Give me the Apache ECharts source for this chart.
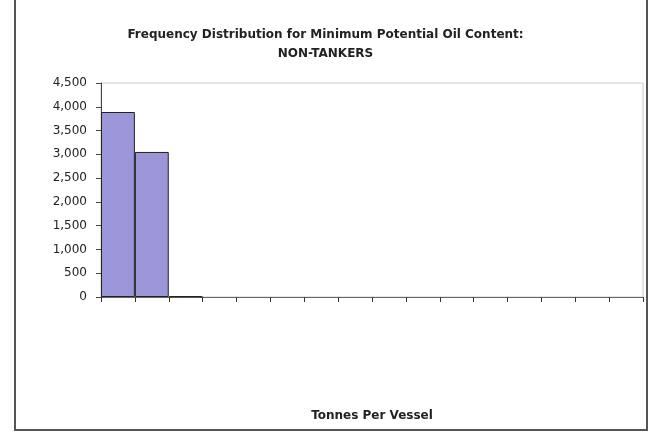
<!DOCTYPE html>
<html>
<head>
<meta charset="utf-8">
<style>
  html, body { margin: 0; padding: 0; background: #fff; }
  #chart { width: 651px; height: 433px; }
</style>
<script src="https://cdn.jsdelivr.net/npm/echarts@6/dist/echarts.min.js"></script>
</head>
<body>
<div id="chart"></div>
<script>
// Histogram bins (16 classes of tonnes per vessel) and vessel counts per bin
const bins = ['1', '2', '3', '4', '5', '6', '7', '8', '9', '10', '11', '12', '13', '14', '15', '16'];
const vesselCounts = [3890, 3050, 15, 0, 0, 0, 0, 0, 0, 0, 0, 0, 0, 0, 0, 0];
const yTicks = { min: 0, max: 4500, step: 500 };

const titleLines = ['Frequency Distribution for Minimum Potential Oil Content:', 'NON-TANKERS'];
const xTitle = 'Tonnes Per Vessel';

const chart = echarts.init(document.getElementById('chart'), null, { renderer: 'canvas' });

const fmt = v => v.toString().replace(/\B(?=(\d{3})+(?!\d))/g, ',');

// empty bins get no outline so only populated bins show a border
const barData = vesselCounts.map(v => (v > 0 ? v : { value: v, itemStyle: { borderWidth: 0 } }));

chart.setOption({
  backgroundColor: '#ffffff',
  animation: false,
  title: {
    text: titleLines.join('\n'),
    left: 'center',
    top: 20,
    textStyle: {
      fontFamily: 'DejaVu Sans',
      fontWeight: 'bold',
      fontSize: 12,
      lineHeight: 19,
      color: '#222'
    }
  },
  grid: {
    left: 101,
    right: 8,
    top: 83,
    bottom: 136,
    show: true,
    borderColor: '#cccccc',
    borderWidth: 1,
    containLabel: false
  },
  xAxis: {
    type: 'category',
    data: bins,
    boundaryGap: true,
    name: xTitle,
    nameLocation: 'middle',
    nameGap: 113,
    nameTextStyle: {
      fontFamily: 'DejaVu Sans',
      fontWeight: 'bold',
      fontSize: 12,
      color: '#222'
    },
    axisLine: { lineStyle: { color: '#666', width: 1 } },
    axisTick: { show: true, length: 5, alignWithLabel: false, lineStyle: { color: '#333' } },
    axisLabel: { show: false },
    splitLine: { show: false }
  },
  yAxis: {
    type: 'value',
    min: yTicks.min,
    max: yTicks.max,
    interval: yTicks.step,
    axisLine: { show: true, lineStyle: { color: '#444', width: 1 } },
    axisTick: { show: true, length: 5, lineStyle: { color: '#444' } },
    axisLabel: {
      margin: 14,
      fontFamily: 'DejaVu Sans',
      fontSize: 12,
      color: '#222',
      formatter: fmt
    },
    splitLine: { show: false }
  },
  series: [{
    type: 'bar',
    data: barData,
    barCategoryGap: '0%',
    itemStyle: {
      color: '#9a96d8',
      borderColor: '#222',
      borderWidth: 1
    }
  }],
  graphic: [
    // outer chart frame (left, bottom, right edges)
    { type: 'line', shape: { x1: 15, y1: 0, x2: 15, y2: 431 }, style: { stroke: '#555', lineWidth: 2 } },
    { type: 'line', shape: { x1: 14, y1: 430, x2: 648, y2: 430 }, style: { stroke: '#555', lineWidth: 2 } },
    { type: 'line', shape: { x1: 647, y1: 0, x2: 647, y2: 431 }, style: { stroke: '#555', lineWidth: 2 } }
  ]
});
</script>
</body>
</html>
